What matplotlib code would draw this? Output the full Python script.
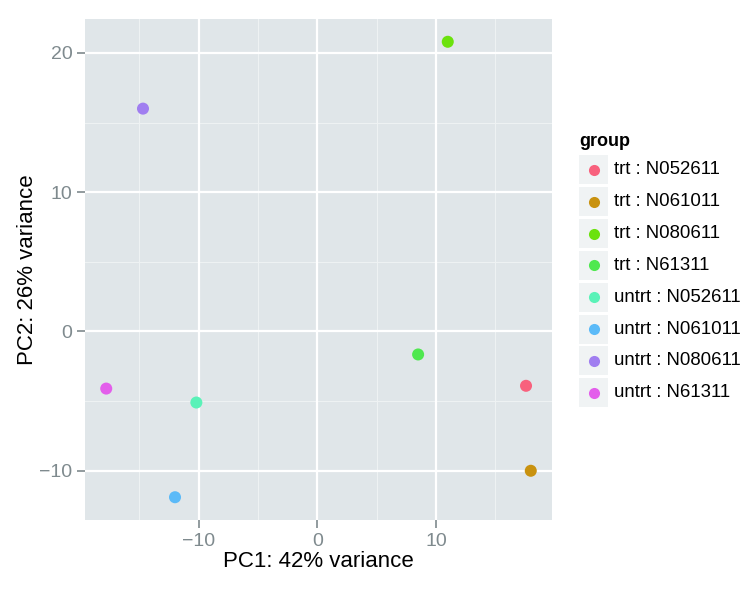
import matplotlib
matplotlib.use("Agg")
import matplotlib.pyplot as plt
from matplotlib.patches import Rectangle
from matplotlib.lines import Line2D

plt.rcParams['font.family'] = ['Liberation Sans', 'DejaVu Sans']

groups = ["trt : N052611", "trt : N061011", "trt : N080611", "trt : N61311",
          "untrt : N052611", "untrt : N061011", "untrt : N080611", "untrt : N61311"]
pc1 = [17.6, 18.0, 11.0, 8.5, -10.2, -12.0, -14.7, -17.8]
pc2 = [-3.9, -10.0, 20.8, -1.65, -5.1, -11.9, 16.0, -4.1]
colors = ["#F8617D", "#C9920F", "#6BE20D", "#4FE84F",
          "#5AF2B8", "#5BBAF8", "#A07EF0", "#E35EEB"]
xticks = [-10, 0, 10]
yticks = [-10, 0, 10, 20]
xminor = [-15, -5, 5, 15]
yminor = [-5, 5, 15]

W, H = 754, 594
fig = plt.figure(figsize=(W / 100, H / 100), dpi=100)
ax = fig.add_axes([85 / W, 1 - 520 / H, (552 - 85) / W, (520 - 19) / H])
ax.set_facecolor("#E0E6E9")
for s in ax.spines.values():
    s.set_visible(False)

for v in xminor:
    ax.axvline(v, color="#EEF2F3", lw=0.8, zorder=0)
for v in yminor:
    ax.axhline(v, color="#EEF2F3", lw=0.8, zorder=0)
for v in xticks:
    ax.axvline(v, color="white", lw=1.6, zorder=0)
for v in yticks:
    ax.axhline(v, color="white", lw=1.6, zorder=0)

for x, y, c in zip(pc1, pc2, colors):
    ax.scatter(x, y, s=75, color=c, edgecolors="none", zorder=3)

xr = max(pc1) - min(pc1)
yr = max(pc2) - min(pc2)
ax.set_xlim(min(pc1) - 0.05 * xr, max(pc1) + 0.05 * xr)
ax.set_ylim(min(pc2) - 0.05 * yr, max(pc2) + 0.05 * yr)
ax.set_xticks(xticks)
ax.set_yticks(yticks)
ax.set_xticklabels([f"{t}" .replace("-", "\u2212") for t in xticks])
ax.set_yticklabels([f"{t}" .replace("-", "\u2212") for t in yticks])
ax.tick_params(length=6, width=1.2, color="#7F8A8E", labelcolor="#7F8A8E",
               labelsize=14, pad=3)
ax.set_xlabel("PC1: 42% variance", fontsize=16, color="black", labelpad=1)
ax.set_ylabel("PC2: 26% variance", fontsize=16, color="black", labelpad=1)

# legend
fig.text(579 / W, 1 - 141 / H, "group", fontsize=13, fontweight="bold",
         ha="left", va="center")
pitch = 31.8
for i, (g, c) in enumerate(zip(groups, colors)):
    cy = 170 + i * pitch
    fig.add_artist(Rectangle((579 / W, 1 - (cy + 14.5) / H), 29 / W, 29 / H,
                             transform=fig.transFigure, facecolor="#F0F3F4",
                             edgecolor="none"))
    fig.add_artist(Line2D([594 / W], [1 - cy / H], marker="o", markersize=8,
                          color=c, markeredgewidth=0, transform=fig.transFigure))
    fig.text(614 / W, 1 - cy / H, g, fontsize=13.4, ha="left", va="center")

fig.savefig("out.png", dpi=100, facecolor="white")
